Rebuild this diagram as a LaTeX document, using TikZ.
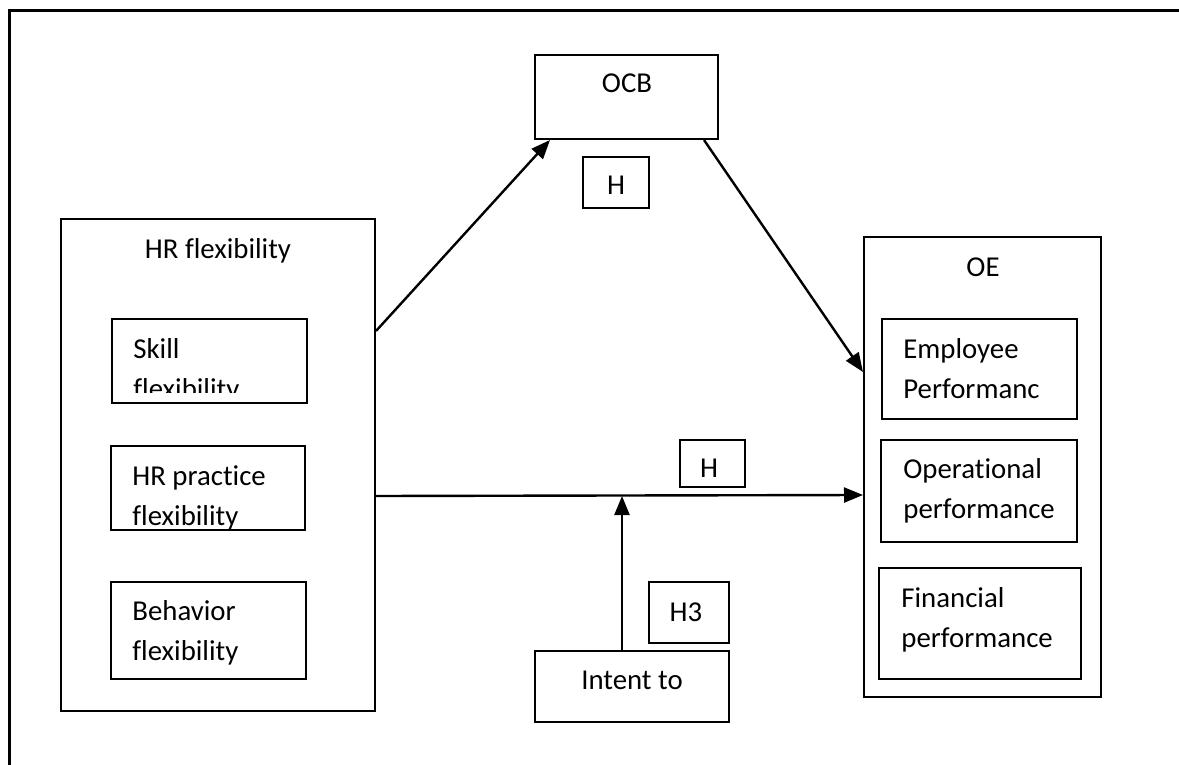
\documentclass[tikz,border=0pt]{standalone}
\usepackage{fontspec}
\setmainfont{Carlito}[Ligatures=NoCommon]
\usetikzlibrary{fit,arrows.meta,calc}
\begin{document}
\begin{tikzpicture}[x=0.5pt,y=-0.5pt,
  box/.style={draw,line width=1pt,inner sep=0pt},
  txt/.style={inner sep=0pt,font=\fontsize{14.4pt}{20pt}\selectfont},
  ltxt/.style={txt,anchor=base west,align=left},
  ctxt/.style={txt,anchor=base},
  arr/.style={line width=1.2pt,-{Triangle[length=9.5pt,width=7.5pt]}},
  frameline/.style={line width=1.5pt}]
\useasboundingbox (0,0) rectangle (1179,765);
\draw[frameline] (1179,11) -- (9,11) -- (9,765);

% HR flexibility (base anchor = last line baseline)
\node[box,fit={(61,219)(375,711)}] (hr) {};
\node[ctxt] (hr-t) at (218,258) {HR flexibility};
\node[box,fit={(112,319)(307,403)}] (skill) {};
\begin{scope}
  \clip (112,319) rectangle (307,392);
  \node[ltxt] (skill-t) at (133,398) {Skill\\flexibility};
\end{scope}
\node[box,fit={(111,446)(305,530)}] (prac) {};
\node[ltxt] (prac-t) at (132,525) {HR practice\\flexibility};
\node[box,fit={(111,582)(306,679)}] (beh) {};
\node[ltxt] (beh-t) at (132,660) {Behavior\\flexibility};

% OE
\node[box,fit={(864,237)(1101,697)}] (oe) {};
\node[ctxt] (oe-t) at (983,277) {OE};
\node[box,fit={(882,319)(1077,419)}] (emp) {};
\node[ltxt] (emp-t) at (903,398) {Employee\\Performanc};
\node[box,fit={(881,440)(1077,542)}] (op) {};
\node[ltxt] (op-t) at (903,518) {Operational\\performance};
\node[box,fit={(879,568)(1081,679)}] (fin) {};
\node[ltxt] (fin-t) at (901,647) {Financial\\performance};

% OCB
\node[box,fit={(535,55)(718,139)}] (ocb) {};
\node[ctxt] (ocb-t) at (627,93) {OCB};
\node[box,fit={(583,157)(649,208)}] (h1) {};
\node[ctxt] (h1-t) at (616,195) {H};

% H and H3, intent
\node[box,fit={(680,440)(745,487)}] (h2) {};
\node[ctxt] (h2-t) at (709,477) {H};
\node[box,fit={(649,582)(729,643)}] (h3) {};
\node[ctxt] (h3-t) at (686,621) {H3};
\node[box,fit={(535,651)(729,722)}] (intent) {};
\node[ctxt] (intent-t) at (632,689) {Intent to};

% connectors
\draw[arr] ([yshift=-56.5pt]hr.north east) -- ([xshift=8pt]ocb.south west);
\draw[arr] ([xshift=-7.5pt]ocb.south east) -- ([yshift=-68pt]oe.north west);
\coordinate (hstart) at ([yshift=-139pt]hr.north east);
\draw[arr] (hstart) -- ([yshift=-129.5pt]oe.north west);
\coordinate (ib) at ([xshift=-5pt]intent.north);
\coordinate (im) at (ib |- hstart);
\draw[arr] (ib) -- (im);
\end{tikzpicture}
\end{document}
